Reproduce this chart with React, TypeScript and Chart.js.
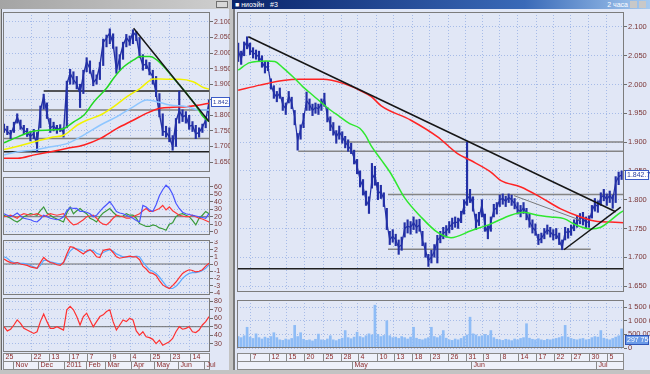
import React, { useEffect, useRef } from 'react';
import { Chart, registerables } from 'chart.js';

Chart.register(...registerables);

// ---------------- data: left window (daily, Oct 2010 – Jul 2011) ----------------
const leftClose = [1.759,1.748,1.738,1.765,1.795,1.765,1.752,1.745,1.733,1.742,
  1.700,1.815,1.860,1.805,1.760,1.766,1.753,1.760,1.745,1.900,
  1.935,1.915,1.900,1.870,1.930,1.972,1.950,1.905,1.918,1.960,
  2.035,2.048,2.065,2.030,1.945,1.985,2.025,2.050,2.035,2.068,
  2.055,1.995,1.960,1.965,1.940,1.925,1.870,1.805,1.748,1.747,
  1.730,1.700,1.780,1.815,1.795,1.800,1.765,1.768,1.740,1.745,
  1.762,1.785,1.842];
const leftHigh = [1.772,1.765,1.752,1.778,1.805,1.785,1.768,1.758,1.748,1.755,
  1.745,1.830,1.868,1.840,1.790,1.778,1.768,1.770,1.760,1.910,
  1.948,1.940,1.925,1.900,1.945,1.985,1.975,1.945,1.930,1.970,
  2.045,2.058,2.078,2.062,2.020,1.995,2.035,2.060,2.055,2.075,
  2.070,2.050,1.995,1.978,1.970,1.945,1.925,1.870,1.805,1.765,
  1.760,1.735,1.790,1.878,1.818,1.812,1.800,1.780,1.768,1.760,
  1.772,1.795,1.850];
const leftLow = [1.745,1.738,1.725,1.745,1.775,1.755,1.740,1.732,1.718,1.725,
  1.683,1.760,1.820,1.790,1.745,1.750,1.742,1.748,1.730,1.760,
  1.900,1.900,1.885,1.825,1.870,1.940,1.935,1.895,1.900,1.915,
  1.960,2.020,2.030,2.015,1.935,1.945,1.980,2.020,2.025,2.030,
  2.040,1.985,1.945,1.950,1.930,1.900,1.860,1.795,1.735,1.730,
  1.715,1.688,1.700,1.775,1.780,1.775,1.755,1.748,1.725,1.730,
  1.745,1.760,1.785];

const leftGreenX = [0,4.2,9.2,14.2,18.2,21.2,24.2,27.2,31,33.2,36.2,39.2,41.2,44.2,46.2,49.2,52.2,55.2,58.2,60.2,62];
const leftGreenY = [1.712,1.731,1.750,1.753,1.758,1.780,1.801,1.844,1.887,1.920,1.956,1.978,1.989,1.989,1.978,1.946,1.908,1.871,1.828,1.796,1.780];
const leftYellowX = [0,4.2,9.2,14.2,18.2,22.2,25.2,29.2,33.2,37.2,41.2,45.2,49.2,53.2,57.2,60.2,62];
const leftYellowY = [1.690,1.701,1.715,1.729,1.737,1.769,1.785,1.801,1.828,1.860,1.887,1.917,1.916,1.916,1.908,1.890,1.884];
const leftSkyX = [0,4.2,9.2,14.2,19.2,24.2,29.2,34.2,39.2,43.2,46.2,50.2,55.2,59.2,62];
const leftSkyY = [1.673,1.683,1.689,1.699,1.710,1.737,1.769,1.796,1.828,1.849,1.844,1.833,1.828,1.817,1.817];
const leftRedX = [0,4.2,9.2,14.2,19.2,24.2,29.2,34.2,39.2,43.2,47.2,51.2,55.2,59.2,62];
const leftRedY = [1.662,1.662,1.673,1.683,1.694,1.705,1.726,1.758,1.785,1.807,1.823,1.826,1.828,1.833,1.839];

const leftTrendX = [39.2, 62];
const leftTrendY = [2.080, 1.780];
const leftLevels = [1.878, 1.817, 1.726, 1.683];
const leftLevelFrom = [12, -0.3, -0.3, -0.3];
const leftLevelTo = [62.3, 62.3, 62.3, 62.3];

const adxBlue = [24,22,20,22,25,21,18,17,16,14,13,17,22,20,18,17,16,17,20,28,32,31,31,27,27,26,24,20,22,27,32,36,40,34,27,25,24,22,20,18,15,13,35,33,29,27,36,48,56,62,58,50,38,31,26,24,23,22,21,20,19,18,24];
const adxRed = [20,21,22,20,18,22,24,23,22,23,24,22,20,22,24,23,22,23,24,18,13,9,10,13,16,20,21,22,18,13,10,9,13,18,22,21,20,18,18,20,22,24,28,31,27,27,29,31,35,29,33,28,25,22,21,20,20,22,20,18,17,15,13];
const adxGreen = [22,20,18,15,13,16,20,22,24,23,22,28,33,25,22,19,17,15,13,25,33,24,28,31,27,24,18,16,13,20,25,28,31,26,22,20,21,24,22,22,18,11,9,7,7,9,8,5,4,2,10,12,20,23,24,22,20,15,9,18,22,27,24];
const macdSignal = [1.0,0.8,0.4,0.2,0.2,0.1,0.1,0.0,-0.2,-0.4,-0.6,-0.2,0.5,0.5,0.3,0.2,0.1,0.0,0.2,1.0,1.8,2.2,2.1,2.0,1.8,1.7,1.9,1.9,1.5,1.3,1.6,1.8,2.0,1.8,1.4,1.2,1.0,1.0,1.0,1.0,1.1,1.0,0.3,-0.3,-0.8,-1.0,-1.3,-1.8,-2.4,-3.0,-3.4,-3.4,-3.1,-2.6,-2.0,-1.6,-1.3,-1.2,-1.2,-1.1,-0.9,-0.6,-0.1];
const macdMain = [0.7,0.4,0.2,0.1,0.2,0.0,-0.1,-0.2,-0.4,-0.5,-0.6,0.2,0.9,0.5,0.2,0.1,-0.1,-0.2,0.2,1.4,2.4,2.3,2.0,1.7,1.4,1.8,2.0,1.6,1.0,0.9,1.9,2.0,2.1,1.6,1.0,0.8,0.9,1.0,1.1,1.0,1.0,0.6,-0.3,-0.7,-1.2,-1.3,-1.6,-2.3,-2.9,-3.2,-3.4,-3.0,-2.5,-1.9,-1.3,-1.0,-0.8,-0.9,-1.1,-1.0,-0.8,-0.3,0.1];
const rsi = [50,45,47,52,58,54,48,46,44,42,44,56,65,56,48,48,50,48,46,70,74,70,62,52,62,66,58,50,56,62,64,68,70,56,46,52,58,56,60,58,45,40,44,38,37,35,30,34,28,30,32,36,44,50,47,48,50,44,43,46,52,56,62];

const leftDayTicks = [-0.3, 8.2, 13.6, 19.6, 25, 32.2, 38.2, 44.2, 50.2, 56.2];
const leftDayLabels = ['25', '22', '13', '17', '7', '9', '4', '25', '23', '14'];
const leftMonthTicks = [2.7, 10.4, 18.2, 24.7, 30.5, 38.5, 45.4, 52.7, 60.5];
const leftMonthLabels = ['Nov', 'Dec', '2011', 'Feb', 'Mar', 'Apr', 'May', 'Jun', 'Jul'];

// ---------------- data: right window (2-hour, Apr – Jul 2011) ----------------
const rightClose = [2.060,2.043,2.066,2.075,2.060,2.055,2.052,2.048,2.040,2.029,
  2.032,2.000,1.985,1.978,1.985,1.965,1.958,1.980,1.968,1.944,
  1.903,1.922,1.940,1.972,1.965,1.955,1.960,1.958,1.966,1.975,
  1.945,1.932,1.922,1.909,1.918,1.909,1.900,1.893,1.887,1.872,
  1.858,1.835,1.822,1.800,1.788,1.835,1.845,1.810,1.815,1.800,
  1.760,1.730,1.737,1.730,1.717,1.722,1.750,1.754,1.752,1.760,
  1.752,1.756,1.729,1.712,1.694,1.700,1.710,1.729,1.735,1.741,
  1.745,1.752,1.758,1.761,1.760,1.770,1.790,1.800,1.808,1.790,
  1.758,1.768,1.792,1.756,1.742,1.760,1.782,1.786,1.800,1.802,
  1.797,1.804,1.800,1.793,1.783,1.779,1.786,1.775,1.762,1.752,
  1.746,1.729,1.733,1.741,1.748,1.744,1.738,1.740,1.730,1.716,
  1.745,1.742,1.747,1.756,1.762,1.768,1.768,1.760,1.762,1.780,
  1.792,1.788,1.803,1.808,1.800,1.808,1.800,1.830,1.840,1.843];
const rightHigh = [2.072,2.058,2.074,2.083,2.072,2.064,2.060,2.058,2.050,2.040,
  2.040,2.010,1.998,1.988,1.994,1.978,1.968,1.988,1.978,1.955,
  1.915,1.930,1.950,1.987,1.975,1.966,1.968,1.966,1.975,1.985,
  1.960,1.944,1.934,1.920,1.928,1.918,1.910,1.904,1.898,1.886,
  1.870,1.850,1.835,1.815,1.805,1.863,1.858,1.830,1.825,1.812,
  1.785,1.745,1.748,1.740,1.730,1.735,1.760,1.765,1.762,1.770,
  1.765,1.766,1.745,1.725,1.705,1.712,1.722,1.738,1.745,1.752,
  1.755,1.762,1.768,1.770,1.768,1.780,1.800,1.900,1.818,1.805,
  1.775,1.778,1.800,1.775,1.755,1.770,1.792,1.795,1.808,1.810,
  1.806,1.810,1.808,1.802,1.795,1.790,1.795,1.785,1.775,1.765,
  1.758,1.740,1.742,1.750,1.756,1.752,1.748,1.750,1.742,1.730,
  1.752,1.750,1.756,1.765,1.772,1.776,1.778,1.770,1.772,1.790,
  1.802,1.798,1.812,1.818,1.810,1.815,1.808,1.840,1.848,1.850];
const rightLow = [2.040,2.035,2.050,2.062,2.052,2.046,2.044,2.040,2.030,2.020,
  2.024,1.992,1.976,1.970,1.976,1.955,1.948,1.968,1.958,1.930,
  1.886,1.905,1.925,1.955,1.955,1.946,1.950,1.948,1.955,1.962,
  1.935,1.920,1.912,1.898,1.905,1.898,1.890,1.884,1.880,1.862,
  1.845,1.822,1.808,1.790,1.776,1.820,1.825,1.800,1.802,1.788,
  1.748,1.722,1.726,1.720,1.705,1.712,1.735,1.742,1.740,1.748,
  1.742,1.745,1.720,1.700,1.684,1.690,1.700,1.690,1.725,1.732,
  1.735,1.742,1.748,1.752,1.750,1.760,1.775,1.790,1.795,1.780,
  1.748,1.755,1.770,1.745,1.732,1.745,1.770,1.775,1.788,1.792,
  1.788,1.795,1.790,1.784,1.775,1.770,1.776,1.765,1.752,1.742,
  1.738,1.722,1.725,1.732,1.740,1.735,1.730,1.732,1.722,1.713,
  1.730,1.733,1.738,1.746,1.752,1.758,1.756,1.750,1.752,1.768,
  1.780,1.778,1.790,1.798,1.790,1.795,1.785,1.795,1.826,1.835];
const rightVolumeK = [420,380,450,760,400,350,520,380,330,400,
  360,420,560,380,300,280,330,300,350,830,
  420,560,320,280,300,260,320,510,300,280,
  330,450,300,270,320,360,640,380,340,400,
  580,420,380,450,520,480,1570,500,420,460,
  1000,450,380,400,350,420,380,330,400,760,
  360,320,300,340,380,760,420,380,450,640,
  360,300,280,330,300,350,420,480,1130,520,
  480,420,450,500,460,640,380,320,300,280,
  320,300,270,330,300,350,380,890,360,320,
  300,340,300,280,320,300,330,350,380,420,
  830,400,350,320,300,330,350,300,320,380,
  420,400,640,360,330,300,350,400,450,700];

const rightGreenX = [0,3.9,9.4,12.3,15.1,18.5,21.8,25.2,29.7,34.2,37.5,40.9,42.8,44.7,48,51.4,55.9,61.5,67.1,71.6,78.3,85,91.7,96.2,100.7,105.2,109.6,114.1,118.6,122,125.3,128.7,129.8];
const rightGreenY = [2.025,2.038,2.041,2.040,2.029,2.013,1.996,1.981,1.961,1.944,1.932,1.924,1.912,1.894,1.870,1.845,1.804,1.770,1.743,1.734,1.746,1.758,1.773,1.778,1.773,1.770,1.767,1.755,1.749,1.752,1.764,1.778,1.781];
const rightRedX = [0,7.3,15.1,20.7,28.6,35.3,40.9,44.8,48.1,58.1,67.1,73.8,78.3,85,88.4,95.1,101.8,108.5,115.2,120.9,125.3,129.8];
const rightRedY = [1.990,1.999,2.007,2.009,2.009,2.002,1.990,1.979,1.963,1.938,1.909,1.880,1.868,1.848,1.833,1.822,1.804,1.784,1.770,1.762,1.761,1.760];

const rightDownX = [3.4, 127];
const rightDownY = [2.083, 1.779];
const rightUpX = [109.6, 128.7];
const rightUpY = [1.713, 1.787];
const rightThinX = [92.8, 115.3];
const rightThinY = [1.807, 1.764];
const rightLevels = [1.900, 1.884, 1.809, 1.714, 1.680];
const rightLevelFrom = [36, 20.2, 50.4, 50.4, -0.4];
const rightLevelTo = [129.8, 129.8, 129.8, 118.6, 129.8];

const rightDayTicks = [4.0, 10.4, 16.1, 22.2, 28.6, 34.6, 40.3, 46.7, 52.4, 58.5, 64.5, 70.6, 76.6, 82.3, 88.0, 94.1, 100.2, 106.2, 111.9, 117.9, 124.0];
const rightDayLabels = ['7', '12', '15', '20', '25', '28', '4', '10', '13', '18', '23', '26', '31', '3', '8', '14', '17', '22', '27', '30', '5'];
const rightMonthTicks = [38.3, 78.3, 120.3];
const rightMonthLabels = ['May', 'Jun', 'Jul'];

const priceTicks = [1.65, 1.70, 1.75, 1.80, 1.85, 1.90, 1.95, 2.00, 2.05, 2.10];
const lastPrice = 1.8427;
const lastVolumeK = 297.75;

// ---------------- styles ----------------
const FONT = '"Liberation Sans", Arial, sans-serif';
const PLOT_BG = '#e1e7f6';
const GRID = '#a6bbe8';
const LABEL = '#7a3434';
const FRAME = '#7c7c7c';
const PRICE = '#2330a6';

const seq = (ys: number[]) => ys.map((y, i) => ({ x: i, y }));
const pts = (xs: number[], ys: number[]) => ys.map((y, i) => ({ x: xs[i], y }));
const line = (data: any[], color: string, width: number, order: number, smooth = false) => ({
  type: 'line', data, borderColor: color, borderWidth: width, pointRadius: 0, fill: false,
  tension: 0, cubicInterpolationMode: smooth ? 'monotone' : 'default', order,
});
const rangeBars = (lo: number[], hi: number[], color: string, order: number) => ({
  type: 'bar', data: lo.map((l, i) => ({ x: i, y: [l, hi[i]] })),
  backgroundColor: color, borderWidth: 0, barThickness: 1.5, order,
});
const levelLines = (levels: number[], from: number[], to: number[], colors: string[]) =>
  levels.map((v, i) => line([{ x: from[i], y: v }, { x: to[i], y: v }], colors[i], 1.5, 6));

const groupK = (v: number) => {
  if (v === 0) return '0';
  return String(Math.round(v * 1000)).replace(/\B(?=(\d{3})+(?!\d))/g, ' ');
};

const decorPlugin = {
  id: 'decor',
  afterDraw(chart: any, _args: any, o: any) {
    const { ctx, chartArea: a } = chart;
    ctx.save();
    ctx.strokeStyle = FRAME;
    ctx.lineWidth = 1;
    ctx.strokeRect(a.left + 0.5, a.top + 0.5, a.right - a.left - 1, a.bottom - a.top - 1);
    const box = o && o.box;
    if (box) {
      const y = Math.round(chart.scales.y.getPixelForValue(box.value));
      const x = Math.round(a.right) + 1;
      ctx.fillStyle = box.fill;
      ctx.fillRect(x, y - 5, box.width, 10);
      ctx.strokeStyle = box.stroke;
      ctx.strokeRect(x + 0.5, y - 4.5, box.width - 1, 9);
      ctx.fillStyle = box.color;
      ctx.font = `${box.size}px ${FONT}`;
      ctx.textBaseline = 'middle';
      ctx.textAlign = 'left';
      ctx.fillText(box.text, x + 2, y + 0.5);
    }
    const d = o && o.dates;
    if (d) {
      const xs = chart.scales.x;
      const L = a.left, R = a.right, t = d.top, h = d.rowH;
      ctx.fillStyle = '#eef1fa';
      ctx.fillRect(L, t, R - L, 2 * h);
      ctx.strokeStyle = '#8a8a8a';
      ctx.strokeRect(L + 0.5, t + 0.5, R - L - 1, h);
      ctx.strokeRect(L + 0.5, t + h + 0.5, R - L - 1, h);
      ctx.font = `7px ${FONT}`;
      ctx.textBaseline = 'middle';
      ctx.textAlign = 'left';
      const row = (vals: number[], labels: string[], y0: number) => {
        for (let i = 0; i < vals.length; i++) {
          const px = Math.round(xs.getPixelForValue(vals[i])) + 0.5;
          ctx.strokeStyle = '#8a8a8a';
          ctx.beginPath();
          ctx.moveTo(px, y0);
          ctx.lineTo(px, y0 + h);
          ctx.stroke();
          ctx.fillStyle = '#8c2b2b';
          ctx.fillText(labels[i], px + 2, y0 + h / 2 + 0.5);
        }
      };
      row(d.dayTicks, d.dayLabels, t);
      row(d.monthTicks, d.monthLabels, t + h);
    }
    ctx.restore();
  },
};

function buildConfig(s: any): any {
  return {
    type: 'bar',
    data: { datasets: s.datasets },
    plugins: [decorPlugin],
    options: {
      responsive: false,
      maintainAspectRatio: false,
      animation: false,
      devicePixelRatio: 1,
      events: [],
      layout: { padding: { left: 0, right: 0, top: 0, bottom: s.bottomPad || 0 } },
      plugins: {
        legend: { display: false },
        tooltip: { enabled: false },
        decor: s.decor || {},
      },
      scales: {
        x: {
          type: 'linear', min: s.xMin, max: s.xMax, offset: false, bounds: 'data',
          afterBuildTicks: (sc: any) => { sc.ticks = s.xTicks.map((v: number) => ({ value: v })); },
          afterFit: (sc: any) => { sc.height = 0; sc.paddingLeft = 0; sc.paddingRight = 0; },
          ticks: { display: false },
          grid: { color: GRID, lineWidth: 1, drawTicks: false, offset: false },
          border: { display: false, dash: [1, 2] },
        },
        y: {
          type: 'linear', position: 'right', min: s.yMin, max: s.yMax, beginAtZero: false, bounds: 'data',
          afterBuildTicks: (sc: any) => { sc.ticks = s.yTicks.map((v: number) => ({ value: v })); },
          afterFit: (sc: any) => { sc.width = s.axisW; sc.paddingTop = 0; sc.paddingBottom = 0; },
          ticks: {
            autoSkip: false, padding: 1, color: LABEL,
            font: { size: s.fontSize, family: FONT },
            callback: (v: number) => s.fmt(v),
          },
          grid: { color: GRID, drawTicks: true, tickLength: 3, tickColor: '#6f6f6f', tickWidth: 1 },
          border: { display: false, dash: [1, 2] },
        },
      },
    },
  };
}

function Panel(props: { left: number; top: number; width: number; height: number; spec: () => any }) {
  const ref = useRef<HTMLCanvasElement>(null);
  useEffect(() => {
    const chart = new Chart(ref.current as HTMLCanvasElement, buildConfig(props.spec()));
    return () => chart.destroy();
  }, []);
  return (
    <canvas
      ref={ref}
      width={props.width}
      height={props.height}
      style={{ position: 'absolute', left: props.left, top: props.top, width: props.width, height: props.height }}
    />
  );
}

const LX = { xMin: -0.3, xMax: 62.3, xTicks: leftDayTicks, axisW: 20, fontSize: 7 };
const RX = { xMin: -0.4, xMax: 129.8, xTicks: rightDayTicks, axisW: 26, fontSize: 7.5 };
const refLine = (v: number, min: number, max: number) => line([{ x: min, y: v }, { x: max, y: v }], '#6e6e6e', 1, 9);

const leftMainSpec = () => ({
  ...LX, yMin: 1.618, yMax: 2.132, yTicks: priceTicks, fmt: (v: number) => v.toFixed(3),
  decor: { box: { value: lastPrice, text: '1.842.7', width: 19, size: 6, fill: '#ffffff', stroke: '#3a5bc7', color: '#2a3fa0' } },
  datasets: [
    line(pts(leftTrendX, leftTrendY), '#161616', 1.5, 0),
    line(pts(leftGreenX, leftGreenY), '#22d922', 1.5, 1, true),
    line(pts(leftYellowX, leftYellowY), '#f2f200', 1.5, 1, true),
    line(pts(leftSkyX, leftSkyY), '#8ec6ff', 1.5, 1, true),
    line(pts(leftRedX, leftRedY), '#ff2020', 1.5, 1, true),
    line(seq(leftClose), PRICE, 1.4, 3),
    rangeBars(leftLow, leftHigh, PRICE, 4),
    ...levelLines(leftLevels, leftLevelFrom, leftLevelTo, ['#202020', '#808080', '#808080', '#202020']),
  ],
});

const adxSpec = () => ({
  ...LX, yMin: -4.4, yMax: 73, yTicks: [0, 10, 20, 30, 40, 50, 60], fmt: (v: number) => String(v),
  datasets: [
    line(seq(adxBlue), '#4a55ff', 1.2, 1),
    line(seq(adxRed), '#ff3838', 1.2, 2),
    line(seq(adxGreen), '#3a9a3a', 1.2, 3),
    refLine(20, -0.3, 62.3),
  ],
});

const macdSpec = () => ({
  ...LX, yMin: -4.3, yMax: 3.33, yTicks: [-4, -3, -2, -1, 0, 1, 2, 3], fmt: (v: number) => String(v),
  datasets: [
    line(seq(macdMain), '#ff3030', 1.2, 1),
    line(seq(macdSignal), '#5aa8ff', 1.2, 2),
    refLine(0, -0.3, 62.3),
  ],
});

const rsiSpec = () => ({
  ...LX, yMin: 20, yMax: 84, yTicks: [30, 40, 50, 60, 70, 80], fmt: (v: number) => String(v),
  bottomPad: 18,
  decor: { dates: { top: 55, rowH: 8, dayTicks: leftDayTicks, dayLabels: leftDayLabels, monthTicks: leftMonthTicks, monthLabels: leftMonthLabels } },
  datasets: [
    line(seq(rsi), '#ff3030', 1.2, 1),
    refLine(50, -0.3, 62.3),
  ],
});

const rightMainSpec = () => ({
  ...RX, yMin: 1.6396, yMax: 2.126, yTicks: priceTicks, fmt: (v: number) => v.toFixed(3),
  decor: { box: { value: lastPrice, text: '1.842.7', width: 24, size: 7, fill: '#ffffff', stroke: '#3a5bc7', color: '#2a3fa0' } },
  datasets: [
    line(pts(rightDownX, rightDownY), '#161616', 1.5, 0),
    line(pts(rightUpX, rightUpY), '#161616', 1.5, 0),
    line(pts(rightThinX, rightThinY), '#7a7a7a', 1, 0),
    line(pts(rightGreenX, rightGreenY), '#2fe82f', 1.5, 1, true),
    line(pts(rightRedX, rightRedY), '#ff2424', 1.5, 1, true),
    line(seq(rightClose), PRICE, 1.2, 3),
    rangeBars(rightLow, rightHigh, PRICE, 4),
    ...levelLines(rightLevels, rightLevelFrom, rightLevelTo, ['#858585', '#858585', '#858585', '#858585', '#202020']),
  ],
});

const volumeSpec = () => ({
  ...RX, yMin: 0, yMax: 1760, yTicks: [0, 500, 1000, 1500], fmt: groupK,
  bottomPad: 22,
  decor: {
    box: { value: lastVolumeK, text: '297 750', width: 24, size: 7, fill: '#6b9be8', stroke: '#2f55b8', color: '#ffffff' },
    dates: { top: 53, rowH: 8, dayTicks: rightDayTicks, dayLabels: rightDayLabels, monthTicks: rightMonthTicks, monthLabels: rightMonthLabels },
  },
  datasets: [
    { type: 'bar', data: seq(rightVolumeK), backgroundColor: '#8ebcf6', borderWidth: 0, barThickness: 2, order: 1 },
  ],
});

export default function App() {
  Chart.defaults.font.family = FONT;
  const abs = (l: number, t: number, w: number, h: number, extra: any = {}) => ({
    position: 'absolute' as const, left: l, top: t, width: w, height: h, ...extra,
  });
  return (
    <div style={{ position: 'fixed', left: 0, top: 0, width: 650, height: 374, background: '#c3c3c3', overflow: 'hidden', fontFamily: FONT }}>
      {/* left window */}
      <div style={abs(0, 0, 229, 9, { background: 'linear-gradient(to right, #a4a4a4, #cfcfcf)' })} />
      <div style={abs(216, 1, 12, 7, { background: '#d8d8d8', border: '1px solid #707070', boxSizing: 'border-box' })} />
      <div style={abs(1, 9, 228, 361, { background: PLOT_BG, borderLeft: '1px solid #6a6a6a', boxSizing: 'border-box' })} />
      {/* right window */}
      <div style={abs(232, 0, 418, 9, { background: 'linear-gradient(to right, #0a246a, #3a6ab8 70%, #a6caf0)', color: '#ffffff', fontSize: 7, lineHeight: '9px', whiteSpace: 'nowrap' })}>
        <span style={{ position: 'absolute', left: 3, top: 0 }}>■ ниоэйн&nbsp;&nbsp;&nbsp;#3</span>
        <span style={{ position: 'absolute', right: 22, top: 0 }}>2 часа</span>
        <span style={{ position: 'absolute', right: 13, top: 1, width: 7, height: 7, background: '#c8c8c8' }} />
        <span style={{ position: 'absolute', right: 4, top: 1, width: 7, height: 7, background: '#c8c8c8' }} />
      </div>
      <div style={abs(233, 9, 417, 361, { background: PLOT_BG, borderLeft: '2px solid #7a7a7a', boxSizing: 'border-box' })} />

      <Panel left={3} top={12} width={227} height={160} spec={leftMainSpec} />
      <Panel left={3} top={177} width={227} height={58} spec={adxSpec} />
      <Panel left={3} top={240} width={227} height={55} spec={macdSpec} />
      <Panel left={3} top={298} width={227} height={72} spec={rsiSpec} />

      <Panel left={237} top={12} width={413} height={280} spec={rightMainSpec} />
      <Panel left={237} top={300} width={413} height={70} spec={volumeSpec} />
    </div>
  );
}
